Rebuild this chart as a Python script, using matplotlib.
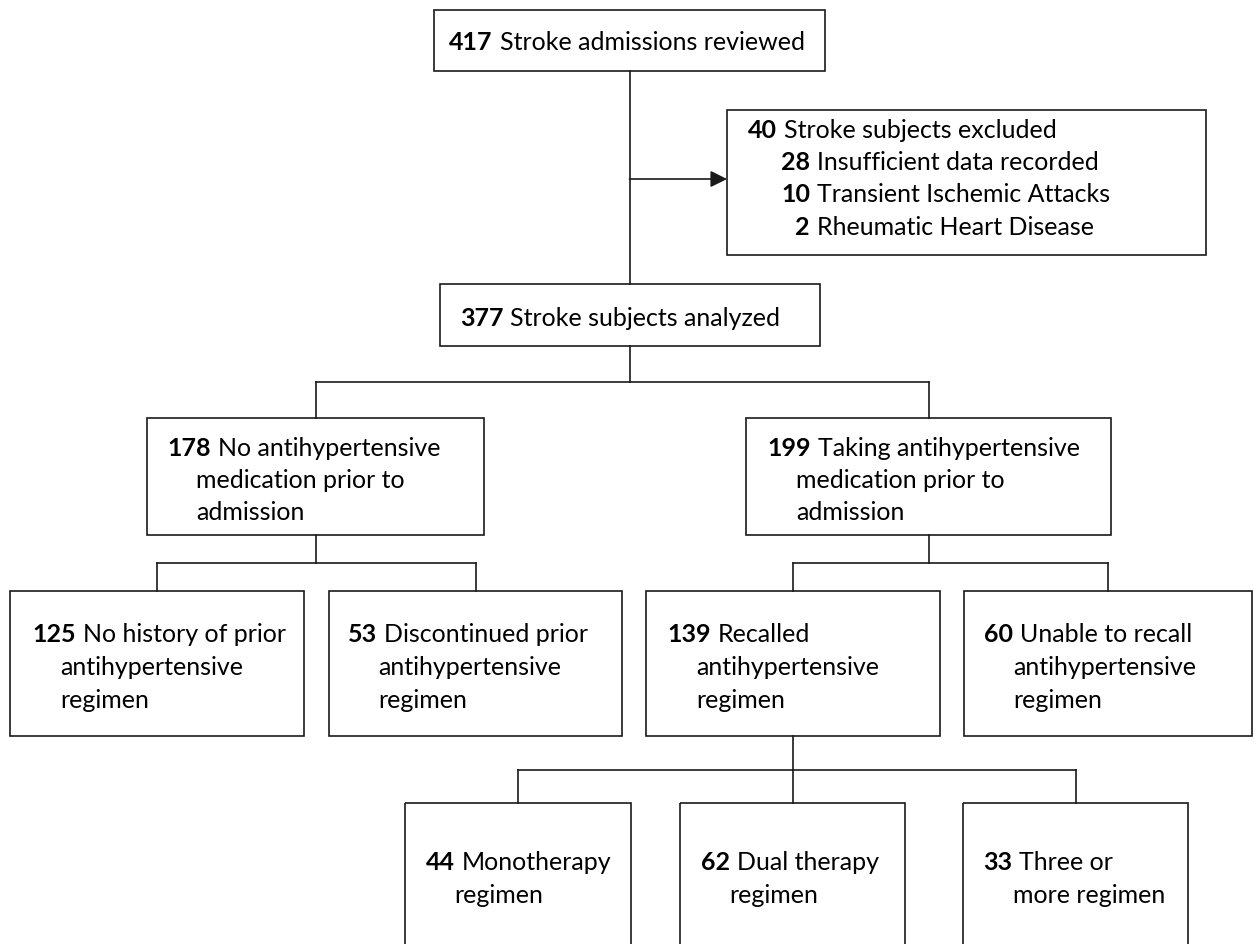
import matplotlib
matplotlib.use("Agg")
import matplotlib.pyplot as plt
from matplotlib.patches import Rectangle

plt.rcParams["font.family"] = ["Lato", "DejaVu Sans"]

# flow counts and labels (lines of each box)
counts = [417, 40, 377, 178, 199, 125, 53, 139, 60, 44, 62, 33]
labels = [
    ["Stroke admissions reviewed"],
    ["Stroke subjects excluded"],
    ["Stroke subjects analyzed"],
    ["No antihypertensive", "medication prior to", "admission"],
    ["Taking antihypertensive", "medication prior to", "admission"],
    ["No history of prior", "antihypertensive", "regimen"],
    ["Discontinued prior", "antihypertensive", "regimen"],
    ["Recalled", "antihypertensive", "regimen"],
    ["Unable to recall", "antihypertensive", "regimen"],
    ["Monotherapy", "regimen"],
    ["Dual therapy", "regimen"],
    ["Three or", "more regimen"],
]
excl_counts = [28, 10, 2]
excl_labels = ["Insufficient data recorded", "Transient Ischemic Attacks",
               "Rheumatic Heart Disease"]

# layout in pixels: box (x0, y0, x1, y1), text start (x, y), hanging indent x
W, H = 1254, 945
boxes = [(434, 11, 825, 72), (727, 111, 1206, 256), (440, 285, 820, 347),
         (147, 419, 484, 536), (746, 419, 1111, 536),
         (10, 592, 304, 737), (329, 592, 622, 737),
         (646, 592, 940, 737), (964, 592, 1252, 737),
         (405, 804, 631, 960), (680, 804, 905, 960), (963, 804, 1188, 960)]
text_pos = [(449, 42, 0), (748, 130, 0), (460, 318, 0),
            (167, 448, 196), (767, 448, 796),
            (32, 635, 60), (348, 635, 378), (667, 635, 696), (984, 635, 1013),
            (426, 863, 454), (701, 863, 729), (983, 863, 1013)]
line_h = 32.5
excl_num_right = 810
# parent -> children (index into boxes), y of the split bar
tree = [(2, [3, 4], 383), (3, [5, 6], 564), (4, [7, 8], 564), (7, [9, 10, 11], 771)]

FS = 18
LC = "#1a1a1a"

fig = plt.figure(figsize=(W / 100, H / 100), dpi=100)
ax = fig.add_axes([0, 0, 1, 1])
ax.set_xlim(0, W)
ax.set_ylim(H, 0)
ax.axis("off")
fig.canvas.draw()
rend = fig.canvas.get_renderer()


def px_width(t):
    bb = t.get_window_extent(renderer=rend)
    return bb.width


def numbered(x, y, n, s, ha_num="left"):
    tn = ax.text(x, y, str(n), fontsize=FS, fontweight="bold", ha=ha_num,
                 va="center", color="black")
    w = px_width(tn)
    x0 = x if ha_num == "left" else x - w
    ax.text(x0 + w + 7, y, s, fontsize=FS, ha="left", va="center", color="black")


def cx(i):
    return (boxes[i][0] + boxes[i][2]) / 2


for (x0, y0, x1, y1) in boxes:
    ax.add_patch(Rectangle((x0, y0), x1 - x0, y1 - y0, fill=False,
                           ec=LC, lw=1.2))

for i, (n, lines) in enumerate(zip(counts, labels)):
    tx, ty, ind = text_pos[i]
    numbered(tx, ty, n, lines[0])
    for k, ln in enumerate(lines[1:], start=1):
        ax.text(ind, ty + k * line_h, ln, fontsize=FS, ha="left", va="center")

for k, (n, s) in enumerate(zip(excl_counts, excl_labels), start=1):
    numbered(excl_num_right, text_pos[1][1] + k * line_h, n, s, ha_num="right")

# main trunk and exclusion arrow
ax.plot([cx(0), cx(0)], [boxes[0][3], boxes[2][1]], color=LC, lw=1.2)
arrow_y = 180
ax.annotate("", xy=(boxes[1][0], arrow_y), xytext=(cx(0), arrow_y),
            arrowprops=dict(arrowstyle="-|>,head_length=0.5,head_width=0.25",
                            mutation_scale=20, lw=1.2, color=LC,
                            shrinkA=0, shrinkB=0))

for p, kids, ybar in tree:
    ax.plot([cx(p), cx(p)], [boxes[p][3], ybar], color=LC, lw=1.2)
    xs = [cx(k) for k in kids]
    ax.plot([min(xs), max(xs)], [ybar, ybar], color=LC, lw=1.2)
    for k in kids:
        ax.plot([cx(k), cx(k)], [ybar, boxes[k][1]], color=LC, lw=1.2)

fig.savefig("out.png", dpi=100, facecolor="white")
